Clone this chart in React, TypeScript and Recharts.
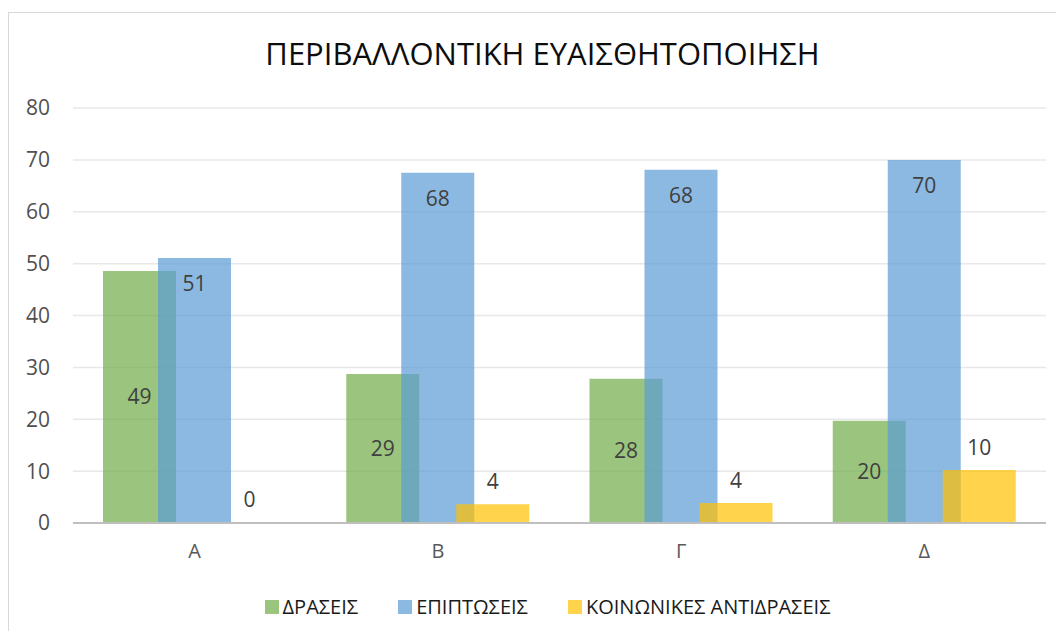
import {
  Bar,
  BarChart,
  CartesianGrid,
  LabelList,
  Legend,
  XAxis,
  YAxis,
} from "recharts";

const categories = ["Α", "Β", "Γ", "Δ"];
const draseis = [48.6, 28.7, 27.8, 19.7];
const epiptoseis = [51.1, 67.5, 68.1, 70.0];
const antidraseis = [0, 3.6, 3.85, 10.2];
const yTicks = [0, 10, 20, 30, 40, 50, 60, 70, 80];

const data = categories.map((name, i) => ({
  name,
  draseis: draseis[i],
  epiptoseis: epiptoseis[i],
  antidraseis: antidraseis[i],
}));

const font = "'Open Sans', 'Noto Sans', sans-serif";
// labels show rounded values, as strings so a 0 still gets drawn
const round = (v: any) => String(Math.round(Number(v)));

function LegendBox(props: any) {
  const items = props.payload || [];
  return (
    <div
      style={{
        display: "flex",
        justifyContent: "center",
        gap: 40,
        paddingLeft: 40,
      }}
    >
      {items.map((it: any) => (
        <div key={it.value} style={{ display: "flex", alignItems: "center" }}>
          <span
            style={{
              width: 14,
              height: 14,
              background: it.color,
              opacity: 0.7,
              marginRight: 4,
              display: "inline-block",
            }}
          />
          <span style={{ color: "#1a1a1a", fontSize: 20, fontFamily: font }}>
            {it.value}
          </span>
        </div>
      ))}
    </div>
  );
}

function App() {
  return (
    <div style={{ width: 1048, height: 619, overflow: "hidden", marginTop: 4 }}>
      <div
        style={{
          position: "relative",
          width: 1067,
          height: 618,
          borderTop: "1px solid #d9d9d9",
          borderLeft: "1px solid #d9d9d9",
          fontFamily: font,
        }}
      >
        <div
          style={{
            position: "absolute",
            top: 19,
            left: 0,
            width: 1067,
            textAlign: "center",
            fontSize: 31,
            color: "#0d0d0d",
          }}
        >
          ΠΕΡΙΒΑΛΛΟΝΤΙΚΗ ΕΥΑΙΣΘΗΤΟΠΟΙΗΣΗ
        </div>
        <BarChart
          width={1067}
          height={618}
          data={data}
          margin={{ top: 95, right: 30, left: 0, bottom: 11 }}
          barSize={73}
          barGap={-18}
        >
          <CartesianGrid vertical={false} stroke="#e8e8e8" strokeWidth={1.5} />
          <XAxis
            dataKey="name"
            height={70}
            axisLine={{ stroke: "#bfbfbf", strokeWidth: 2 }}
            tickLine={false}
            tickMargin={15}
            tick={{ fill: "#595959", fontSize: 20, fontFamily: font }}
          />
          <YAxis
            width={64}
            domain={[0, 80]}
            ticks={yTicks}
            axisLine={false}
            tickLine={false}
            tickMargin={17}
            tick={{ fill: "#505050", fontSize: 21, fontFamily: font }}
          />
          <Legend verticalAlign="bottom" content={<LegendBox />} />
          <Bar
            dataKey="draseis"
            name="ΔΡΑΣΕΙΣ"
            fill="#70ad47"
            fillOpacity={0.7}
            isAnimationActive={false}
          >
            <LabelList
              dataKey="draseis"
              position="center"
              formatter={round}
              fill="#404040"
              fontSize={21}
              fontFamily={font}
            />
          </Bar>
          <Bar
            dataKey="epiptoseis"
            name="ΕΠΙΠΤΩΣΕΙΣ"
            fill="#5b9bd5"
            fillOpacity={0.7}
            isAnimationActive={false}
          >
            <LabelList
              dataKey="epiptoseis"
              position="insideTop"
              offset={18}
              formatter={round}
              fill="#404040"
              fontSize={21}
              fontFamily={font}
            />
          </Bar>
          <Bar
            dataKey="antidraseis"
            name="ΚΟΙΝΩΝΙΚΕΣ ΑΝΤΙΔΡΑΣΕΙΣ"
            fill="#ffc000"
            fillOpacity={0.7}
            minPointSize={1}
            isAnimationActive={false}
          >
            <LabelList
              dataKey="antidraseis"
              position="top"
              offset={15}
              formatter={round}
              fill="#404040"
              fontSize={21}
              fontFamily={font}
            />
          </Bar>
        </BarChart>
      </div>
    </div>
  );
}

export default App;
